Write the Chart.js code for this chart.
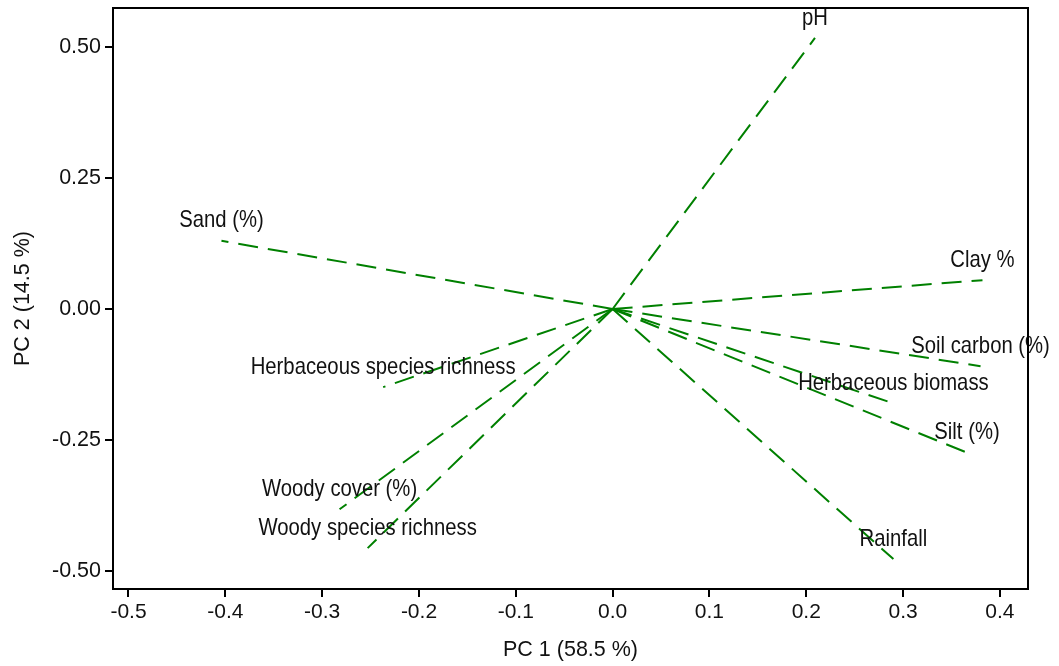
<!DOCTYPE html>
<html>
<head>
<meta charset="utf-8">
<script src="https://cdn.jsdelivr.net/npm/chart.js@4/dist/chart.umd.min.js"></script>
<style>
html,body{margin:0;padding:0;background:#fff;}
#wrap{width:1059px;height:666px;}
</style>
</head>
<body>
<div id="wrap"><canvas id="c" width="1059" height="666"></canvas></div>
<script>
const variables = ["pH","Sand (%)","Clay %","Soil carbon (%)","Herbaceous biomass","Silt (%)","Rainfall","Herbaceous species richness","Woody cover (%)","Woody species richness"];
const pc1 = [0.209,-0.404,0.382,0.380,0.290,0.366,0.290,-0.237,-0.282,-0.253];
const pc2 = [0.517,0.130,0.055,-0.109,-0.180,-0.274,-0.477,-0.149,-0.382,-0.456];
const xTicks = [-0.5,-0.4,-0.3,-0.2,-0.1,0.0,0.1,0.2,0.3,0.4];
const yTicks = [-0.50,-0.25,0.00,0.25,0.50];
const xTitle = "PC 1 (58.5 %)";
const yTitle = "PC 2 (14.5 %)";

const FONT = "'Liberation Sans',Arial,sans-serif";
const GREEN = "rgb(0,128,0)";

const datasets = variables.map((name,i)=>({
  label:name,
  data:[{x:0,y:0},{x:pc1[i],y:pc2[i]}],
  showLine:true,
  borderColor:GREEN,
  borderWidth:2,
  borderDash:[20,10],
  pointRadius:0,
  fill:false
}));

const labelPlugin = {
  id:'arrowLabels',
  beforeDraw(chart){
    const ctx = chart.ctx;
    ctx.save();
    ctx.fillStyle = "#fff";
    ctx.fillRect(0,0,chart.width,chart.height);
    ctx.restore();
  },
  afterDatasetsDraw(chart){
    const ctx = chart.ctx;
    const xs = chart.scales.x, ys = chart.scales.y;
    const sx = 0.845;
    ctx.save();
    ctx.font = "24px " + FONT;
    ctx.fillStyle = "#111";
    ctx.textAlign = "center";
    ctx.textBaseline = "middle";
    variables.forEach((name,i)=>{
      const px = xs.getPixelForValue(pc1[i]);
      const py = ys.getPixelForValue(pc2[i]);
      ctx.save();
      ctx.translate(px, py - 20);
      ctx.scale(sx, 1);
      ctx.fillText(name, 0, 0);
      ctx.restore();
    });
    ctx.restore();
  },
  afterDraw(chart){
    const {ctx, chartArea:a} = chart;
    ctx.save();
    ctx.strokeStyle = "#000";
    ctx.lineWidth = 2;
    ctx.strokeRect(a.left, a.top, a.right-a.left, a.bottom-a.top);
    ctx.restore();
  }
};

new Chart(document.getElementById('c'),{
  type:'scatter',
  data:{datasets},
  options:{
    responsive:false,
    animation:false,
    devicePixelRatio:1,
    layout:{padding:{left:0,top:8,right:31,bottom:0}},
    plugins:{legend:{display:false},tooltip:{enabled:false}},
    scales:{
      x:{
        type:'linear',
        min:-0.516,max:0.429,
        afterBuildTicks(s){ s.ticks = xTicks.map(v=>({value:v})); },
        afterFit(s){ s.height = 77; s.paddingLeft = 0; s.paddingRight = 0; },
        ticks:{
          callback:(v)=>Number(v).toFixed(1),
          color:"#111",
          font:{family:FONT,size:21},
          padding:3,
          maxRotation:0,
          autoSkip:false
        },
        grid:{display:true,drawOnChartArea:false,drawTicks:true,tickLength:8,color:"#000",lineWidth:2},
        border:{display:true,color:"#000",width:2},
        title:{display:true,text:xTitle,color:"#111",font:{family:FONT,size:21.5},padding:{top:4,bottom:3}}
      },
      y:{
        type:'linear',
        min:-0.534,max:0.574,
        afterBuildTicks(s){ s.ticks = yTicks.map(v=>({value:v})); },
        afterFit(s){ s.width = 113; s.paddingTop = 0; s.paddingBottom = 0; },
        ticks:{
          callback:(v)=>Number(v).toFixed(2),
          color:"#111",
          font:{family:FONT,size:21.5},
          padding:4,
          autoSkip:false
        },
        grid:{display:true,drawOnChartArea:false,drawTicks:true,tickLength:8,color:"#000",lineWidth:2},
        border:{display:true,color:"#000",width:2},
        title:{display:true,text:yTitle,color:"#111",font:{family:FONT,size:21.5},padding:{top:10,bottom:6}}
      }
    }
  },
  plugins:[labelPlugin]
});
</script>
</body>
</html>
